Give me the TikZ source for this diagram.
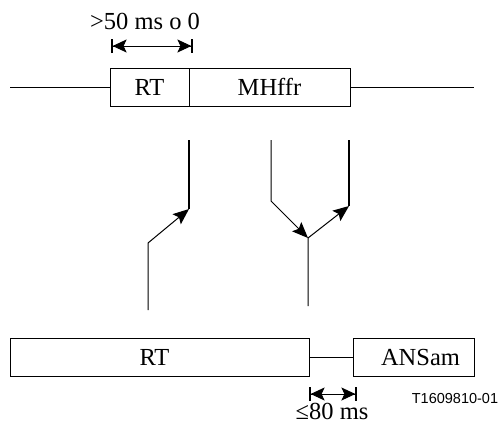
\documentclass[tikz,border=0pt]{standalone}
\usepackage{fontspec}
\setmainfont{Liberation Serif}
\newfontfamily\labelsans{Liberation Sans}
\usetikzlibrary{arrows.meta, positioning}

\begin{document}
\begin{tikzpicture}[
    x=1pt, y=-1pt,
    line width=1pt,
    font=\fontsize{24.5}{28}\selectfont,
    frame/.style={draw=black, line width=1pt, minimum height=38pt, inner sep=0pt, outer sep=0pt, anchor=west},
    sig/.style={-{Stealth[length=16pt, width=13pt, inset=3pt]}},
    thickline/.style={line width=2.2pt},
    dimline/.style={{Bar[width=14pt, line width=1.6pt]Stealth[length=14pt, width=13pt, inset=3pt]}-{Stealth[length=14pt, width=13pt, inset=3pt]Bar[width=14pt, line width=1.6pt]}}
]
    \useasboundingbox (0,0) rectangle (502,426);

    % --- Upper frame ---
    \coordinate (top_l) at (10,87);
    \coordinate (top_r) at (474,87);
    \node[frame, minimum width=79pt] (rt_up) at (110,87) {RT};
    \node[frame, minimum width=161pt, right=0pt of rt_up] (mhffr) {MHffr};
    \draw (top_l) -- (rt_up.west);
    \draw (mhffr.east) -- (top_r);

    % Duration above RT
    \coordinate (d1_a) at (111,46);
    \coordinate (d1_b) at (193,46);
    \draw[dimline] (d1_a) -- (d1_b);
    \node (d1_txt) at (145,21) {>50 ms o 0};

    % --- Transitions ---
    % left branch
    \coordinate (l_top) at (189,140);
    \coordinate (l_knee) at (189,209);
    \coordinate (l_bend) at (148,243);
    \coordinate (l_foot) at (148,310);
    \draw[thickline] (l_top) -- (l_knee);
    \draw[sig] (l_foot) -- (l_bend) -- (l_knee);

    % middle/right branch
    \coordinate (m_top) at (271,140);
    \coordinate (m_bend) at (271,201);
    \coordinate (m_join) at (308,238);
    \coordinate (m_foot) at (308,306);
    \coordinate (r_top) at (349,140);
    \coordinate (r_knee) at (349,206);
    \draw[sig] (m_top) -- (m_bend) -- (m_join);
    \draw[sig] (m_foot) -- (m_join) -- (r_knee);
    \draw[thickline] (r_top) -- (r_knee);

    % --- Lower frame ---
    \node[frame, minimum width=299pt] (rt_low) at (10,357.5) {RT\hspace*{10pt}};
    \node[frame, minimum width=121pt] (ansam) at (353,357.5) {\hspace*{14pt}ANSam};
    \draw (rt_low.east) -- (ansam.west);

    % Gap below
    \coordinate (d2_a) at (309,394);
    \coordinate (d2_b) at (357,394);
    \draw[dimline] (d2_a) -- (d2_b);
    \node (d2_txt) at (332,411) {≤80 ms};

    \node[font=\labelsans\fontsize{14.5}{17}\selectfont] (fig_id) at (455,398) {T1609810-01};

\end{tikzpicture}
\end{document}
